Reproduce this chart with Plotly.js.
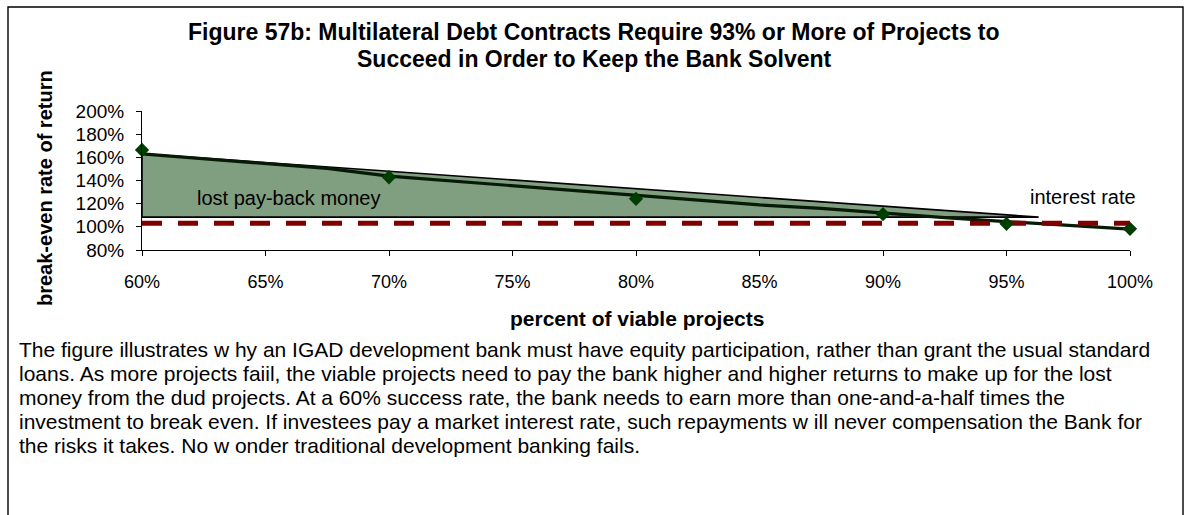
<!DOCTYPE html>
<html><head><meta charset="utf-8">
<script src="https://cdn.plot.ly/plotly-3.0.1.min.js"></script>
<style>html,body{margin:0;padding:0;background:#fff;} #chart{width:1188px;height:515px;}</style>
</head><body><div id="chart"></div>
<script>
// ---- data ----
const pointX = [60, 70, 80, 90, 95, 100];
const pointY = [166.4, 142.8, 124.2, 110.9, 102.6, 98.3];
const curveX = [60, 62.5, 65, 67.5, 70, 72.5, 75, 77.5, 80, 82.5, 85, 87.5, 90, 92.5, 95, 97.5, 100];
const curveY = [162.9, 158.6, 154.2, 150.5, 143.8, 139.6, 135.3, 131.2, 126.6, 122.6, 118.9, 116.0, 111.7, 107.9, 104.5, 101.0, 98.1];
const lossX = [60, 60, 96.3, 60];
const lossY = [108.4, 163.0, 108.4, 108.4];
const rateX = [60, 100];
const rateY = [103, 103];
const xTicks = [60, 65, 70, 75, 80, 85, 90, 95, 100];
const yTicks = [80, 100, 120, 140, 160, 180, 200];
const titleLines = ['Figure 57b: Multilateral Debt Contracts Require 93% or More of Projects to',
                    'Succeed in Order to Keep the Bank Solvent'];
const xTitle = 'percent of viable projects';
const yTitle = 'break-even rate of return';
const lossLabel = 'lost pay-back money';
const rateLabel = 'interest rate';
const captionLines = [
  'The figure illustrates w hy an IGAD development bank must have equity participation, rather than grant the usual standard',
  'loans. As more projects faiil, the viable projects need to pay the bank higher and higher returns to make up for the lost',
  'money from the dud projects. At a 60% success rate, the bank needs to earn more than one-and-a-half times the',
  'investment to break even. If investees pay a market interest rate, such repayments w ill never compensation the Bank for',
  'the risks it takes. No w onder traditional development banking fails.'
];

// ---- layout geometry ----
const W = 1188, H = 515;
const M = {l: 142, r: 58, t: 111, b: 265};
const PW = W - M.l - M.r, PH = H - M.t - M.b;
const px = v => (v - M.l) / PW;        // pixel x -> paper x
const py = v => (H - M.b - v) / PH;    // pixel y -> paper y
const FONT = '"Liberation Sans", Arial, sans-serif';

const traces = [
  {x: lossX, y: lossY, type: 'scatter', mode: 'lines', fill: 'toself',
   fillcolor: '#809e80', line: {color: '#000', width: 1.6}, hoverinfo: 'skip'},
  {x: curveX, y: curveY, type: 'scatter', mode: 'lines',
   line: {color: '#061a06', width: 3.2}, hoverinfo: 'skip'},
  {x: rateX, y: rateY, type: 'scatter', mode: 'lines',
   line: {color: '#800000', width: 5, dash: '20px,16px'}, hoverinfo: 'skip'},
  {x: pointX, y: pointY, type: 'scatter', mode: 'markers', cliponaxis: false,
   marker: {symbol: 'diamond', size: 11, color: '#003d00'}, hoverinfo: 'skip'}
];

const annotations = [
  {text: titleLines[0], x: px(594), y: py(32), xref: 'paper', yref: 'paper', showarrow: false,
   xanchor: 'center', yanchor: 'middle', font: {size: 23, weight: 'bold'}},
  {text: titleLines[1], x: px(594), y: py(59), xref: 'paper', yref: 'paper', showarrow: false,
   xanchor: 'center', yanchor: 'middle', font: {size: 23, weight: 'bold'}},
  {text: xTitle, x: px(637), y: py(318), xref: 'paper', yref: 'paper', showarrow: false,
   xanchor: 'center', yanchor: 'middle', font: {size: 21, weight: 'bold'}},
  {text: yTitle, x: px(45), y: py(188), xref: 'paper', yref: 'paper', showarrow: false,
   textangle: -90, xanchor: 'center', yanchor: 'middle', font: {size: 20, weight: 'bold'}},
  {text: lossLabel, x: 65.95, y: 124.9, xref: 'x', yref: 'y', showarrow: false,
   font: {size: 20}, xanchor: 'center', yanchor: 'middle'},
  {text: rateLabel, x: 98.1, y: 125.5, xref: 'x', yref: 'y', showarrow: false,
   font: {size: 20}, xanchor: 'center', yanchor: 'middle'}
];
captionLines.forEach((t, i) => {
  annotations.push({text: t, x: px(17), y: py(349 + 24 * i), xref: 'paper', yref: 'paper',
    showarrow: false, align: 'left', xanchor: 'left', yanchor: 'middle', font: {size: 21}});
});

const layout = {
  width: W, height: H, margin: M, showlegend: false,
  paper_bgcolor: '#fff', plot_bgcolor: '#fff',
  font: {family: FONT, color: '#000', size: 18},
  xaxis: {range: [60, 100], tickvals: xTicks, ticktext: xTicks.map(v => v + '%'),
          ticks: 'outside', ticklen: 5, tickcolor: '#000', showline: true, linecolor: '#000',
          linewidth: 1, showgrid: false, zeroline: false, fixedrange: true, automargin: false,
          tickfont: {size: 18}, ticklabelstandoff: 10},
  yaxis: {range: [80, 200], tickvals: yTicks, ticktext: yTicks.map(v => v + '%'),
          ticks: 'outside', ticklen: 5, tickcolor: '#000', showline: true, linecolor: '#000',
          linewidth: 1, showgrid: false, zeroline: false, fixedrange: true, automargin: false,
          tickfont: {size: 19}, ticklabelstandoff: 8},
  shapes: [
    {type: 'rect', xref: 'paper', yref: 'paper', x0: px(8), x1: px(1183), y0: py(540), y1: py(7),
     line: {color: '#000', width: 1.4}, fillcolor: 'rgba(0,0,0,0)', layer: 'below'}
  ],
  annotations: annotations
};

Plotly.newPlot('chart', traces, layout, {staticPlot: true, displayModeBar: false});
</script>
</body></html>
